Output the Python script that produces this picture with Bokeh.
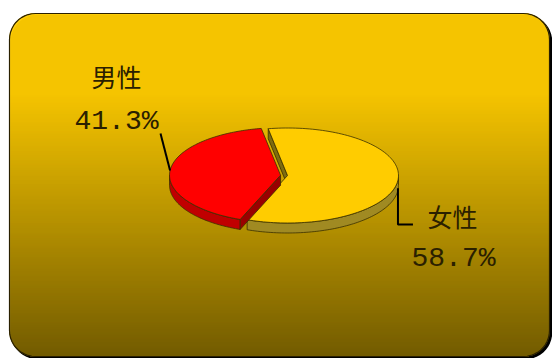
import numpy as np
from bokeh.plotting import figure
from bokeh.models import Range1d
from bokeh.embed import file_html
from bokeh.resources import INLINE
from bokeh.core.properties import value

# ---- data ----
categories = ["男性", "女性"]
shares = [41.3, 58.7]
pct_labels = ["41.3%", "58.7%"]
top_colors = ["#FF0000", "#FFCC00"]
side_colors = ["#C00000", "#A08A22"]
cut_colors = ["#9A0000", "#7E6C10"]

W, H = 552, 358
p = figure(width=W, height=H, x_range=Range1d(0, W), y_range=Range1d(H, 0),
           output_backend="svg", toolbar_location=None, min_border=0,
           x_axis_type=None, y_axis_type=None)
p.grid.visible = False
p.outline_line_color = None
p.background_fill_color = "white"
p.border_fill_color = "white"

# ---- rounded gradient panel ----
L, R, T, B, RAD = 9, 549, 13, 356, 26

def inset(y):
    if y < T + RAD:
        dy = T + RAD - y
    elif y > B - RAD:
        dy = y - (B - RAD)
    else:
        return 0.0
    dy = min(dy, RAD)
    return RAD - np.sqrt(max(RAD ** 2 - dy ** 2, 0))

def rr_path(ox=0, oy=0):
    xs, ys = [], []
    corners = [(R - RAD, T + RAD, -90, 0), (R - RAD, B - RAD, 0, 90),
               (L + RAD, B - RAD, 90, 180), (L + RAD, T + RAD, 180, 270)]
    for cx, cy, a0, a1 in corners:
        for a in np.linspace(a0, a1, 12):
            xs.append(cx + RAD * np.cos(np.radians(a)) + ox)
            ys.append(cy + RAD * np.sin(np.radians(a)) + oy)
    return xs, ys

sx, sy = rr_path(2, 2)
p.patch(sx, sy, fill_color="black", line_color="black", line_width=1.5)

def grad(y):
    c0 = np.array([255, 204, 0]); c1 = np.array([120, 96, 0])
    t = np.clip((y - 95) / (B - 95), 0, 1)
    c = (c0 + (c1 - c0) * t).astype(int)
    return "#%02x%02x%02x" % tuple(c)

ys = np.arange(T, B, 1.0)
lefts, rights, tops, bottoms, cols = [], [], [], [], []
for y in ys:
    ins = inset(y + 0.5)
    lefts.append(L + ins); rights.append(R - ins)
    tops.append(y); bottoms.append(y + 1)
    cols.append(grad(y + 0.5))
p.quad(left=lefts, right=rights, top=tops, bottom=bottoms,
       fill_color=cols, line_color=cols, line_width=0.6)
ox_, oy_ = rr_path()
p.patch(ox_, oy_, fill_color=None, line_color="#2a2000", line_width=1.2)

# ---- 3D pie ----
CX, CY, RX, RY, DEPTH = 287, 175, 111, 47.5, 10
START = 100.0
explode = [7, 0]

angles = []
a = START
for s in shares:
    span = s / sum(shares) * 360
    angles.append((a, a + span))
    a += span

def rim(theta, ox, oy, dz=0.0):
    t = np.radians(theta)
    return ox + RX * np.cos(t), oy - RY * np.sin(t) + dz

outline = "#3a3000"
centers = []
for i, (a1, a2) in enumerate(angles):
    mid = np.radians((a1 + a2) / 2)
    ox = CX + explode[i] * np.cos(mid)
    oy = CY - explode[i] * np.sin(mid) * RY / RX
    centers.append((ox, oy))

draw_order = [1, 0]
for i in draw_order:
    a1, a2 = angles[i]
    ox, oy = centers[i]
    # side wall on the front half
    for lo, hi in [(180, 360), (540, 720)]:
        s, e = max(a1, lo), min(a2, hi)
        if e > s:
            th = np.linspace(s, e, 80)
            tx, ty = rim(th, ox, oy)
            bx, by = rim(th[::-1], ox, oy, DEPTH)
            p.patch(list(tx) + list(bx), list(ty) + list(by),
                    fill_color=side_colors[i], line_color=outline, line_width=0.8)
    # visible cut faces
    for edge, vis in [(a1, np.cos(np.radians(a1)) > 0), (a2, np.cos(np.radians(a2)) < 0)]:
        if vis:
            rx_, ry_ = rim(edge, ox, oy)
            p.patch([ox, rx_, rx_, ox], [oy, ry_, ry_ + DEPTH, oy + DEPTH],
                    fill_color=cut_colors[i], line_color=outline, line_width=0.8)
    # top face
    th = np.linspace(a1, a2, 120)
    tx, ty = rim(th, ox, oy)
    p.patch([ox] + list(tx), [oy] + list(ty),
            fill_color=top_colors[i], line_color=outline, line_width=0.8)

# ---- leader lines ----
ox, oy = centers[0]
m0 = (angles[0][0] + angles[0][1]) / 2
ax0, ay0 = rim(m0, ox, oy)
p.line([ax0, 160], [ay0, 133], line_color="black", line_width=2)

ox, oy = centers[1]
m1 = (angles[1][0] + angles[1][1]) / 2
ax1, ay1 = rim(m1, ox, oy, DEPTH - 2)
p.line([ax1, ax1, ax1 + 15], [ay1, 224, 224], line_color="black", line_width=2)

# ---- labels ----
txt_col = "#2a2000"
p.text(x=[116, 452], y=[75, 215], text=categories, text_align="center",
       text_baseline="middle", text_font=value("Noto Sans CJK SC"),
       text_font_size="25px", text_color=txt_col)
p.text(x=[116, 453], y=[121, 258], text=pct_labels, text_align="center",
       text_baseline="middle", text_font=value("Liberation Mono"),
       text_font_size="28px", text_color=txt_col)

open("out.html", "w").write(file_html(p, INLINE))
